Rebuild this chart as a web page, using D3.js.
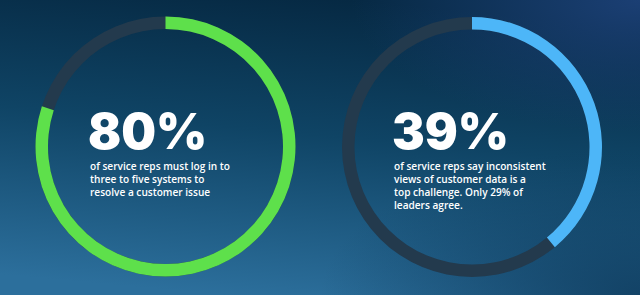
<!DOCTYPE html>
<html>
<head>
<meta charset="utf-8">
<script src="https://cdn.jsdelivr.net/npm/d3@7"></script>
<style>
  html, body { margin: 0; padding: 0; background: #0b3350; }
  svg { display: block; }
</style>
</head>
<body>
<svg id="drawing_region"></svg>
<script>
// stats shown in the two rings
const percents = [80, 39];
const labels = ['80%', '39%'];
const descriptions = [
  ['of service reps must log in to', 'three to five systems to', 'resolve a customer issue'],
  ['of service reps say inconsistent', 'views of customer data is a', 'top challenge. Only 29% of', 'leaders agree.']
];
const colors = ['#5ee04b', '#4db6f8'];

const width = 640, height = 295;
const centers = [{x: 165.5, y: 146.5}, {x: 472, y: 147}];
const textLeft = [90, 394];
const outer = 130, thickness = 12.5;

const svg = d3.select('#drawing_region')
  .attr('width', width)
  .attr('height', height);

const defs = svg.append('defs');

const bg = defs.append('linearGradient')
  .attr('id', 'bg')
  .attr('x1', 0.55).attr('y1', 0)
  .attr('x2', 0.35).attr('y2', 1);
bg.append('stop').attr('offset', 0).attr('stop-color', '#062943');
bg.append('stop').attr('offset', 0.45).attr('stop-color', '#0f4465');
bg.append('stop').attr('offset', 1).attr('stop-color', '#2c6f9c');

const glow = defs.append('radialGradient')
  .attr('id', 'glow')
  .attr('cx', 1).attr('cy', 0).attr('r', 0.45);
glow.append('stop').attr('offset', 0).attr('stop-color', '#1b3f74').attr('stop-opacity', 1);
glow.append('stop').attr('offset', 1).attr('stop-color', '#1b3f74').attr('stop-opacity', 0);

const shade = defs.append('radialGradient')
  .attr('id', 'shade')
  .attr('cx', 1).attr('cy', 1).attr('r', 0.5);
shade.append('stop').attr('offset', 0).attr('stop-color', '#0e3a5c').attr('stop-opacity', 0.8);
shade.append('stop').attr('offset', 1).attr('stop-color', '#0e3a5c').attr('stop-opacity', 0);

svg.append('rect').attr('width', width).attr('height', height).attr('fill', 'url(#bg)');
svg.append('rect').attr('width', width).attr('height', height).attr('fill', 'url(#shade)');
svg.append('rect').attr('width', width).attr('height', height).attr('fill', 'url(#glow)');

const angle = d3.scaleLinear().domain([0, 100]).range([0, 2 * Math.PI]);
const arc = d3.arc().innerRadius(outer - thickness).outerRadius(outer);

const rings = svg.selectAll('g.ring')
  .data(percents)
  .enter()
  .append('g')
  .attr('class', 'ring')
  .attr('transform', (d, i) => `translate(${centers[i].x}, ${centers[i].y})`);

rings.append('path')
  .attr('d', arc({startAngle: 0, endAngle: 2 * Math.PI}))
  .attr('fill', '#233a4d');

rings.append('path')
  .attr('d', d => arc({startAngle: 0, endAngle: angle(d)}))
  .attr('fill', (d, i) => colors[i]);

const texts = svg.selectAll('g.label')
  .data(percents)
  .enter()
  .append('g')
  .attr('class', 'label');

texts.append('text')
  .attr('x', (d, i) => textLeft[i] - 2)
  .attr('y', 148.5)
  .attr('font-family', 'Inter, sans-serif')
  .attr('font-weight', 900)
  .attr('font-size', 49)
  .attr('fill', '#ffffff')
  .text((d, i) => labels[i]);

texts.each(function(d, i) {
  d3.select(this).selectAll('text.desc')
    .data(descriptions[i])
    .enter()
    .append('text')
    .attr('class', 'desc')
    .attr('x', textLeft[i])
    .attr('y', (t, j) => 169.5 + j * 13.3)
    .attr('font-family', '"Open Sans", sans-serif')
    .attr('font-weight', 600)
    .attr('font-size', 10.1)
    .attr('fill', '#ffffff')
    .text(t => t);
});
</script>
</body>
</html>
